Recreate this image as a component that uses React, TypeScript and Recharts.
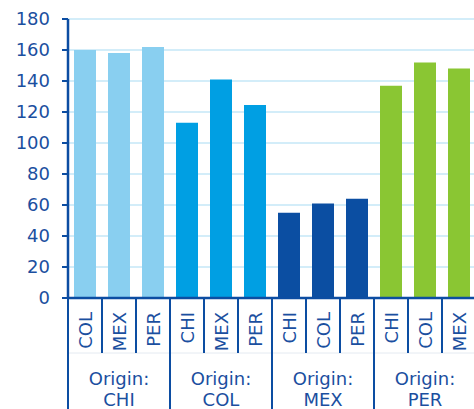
import { BarChart, Bar, XAxis, YAxis, CartesianGrid, Cell } from "recharts";

const destinations = ["COL", "MEX", "PER", "CHI", "MEX", "PER", "CHI", "COL", "PER", "CHI", "COL", "MEX"];
const origins = ["CHI", "CHI", "CHI", "COL", "COL", "COL", "MEX", "MEX", "MEX", "PER", "PER", "PER"];
const values = [160, 158, 162, 113, 141, 124.5, 55, 61, 64, 137, 152, 148];
const yTicks = [0, 20, 40, 60, 80, 100, 120, 140, 160, 180];

const originColors: Record<string, string> = {
  CHI: "#89CFF0",
  COL: "#009FE3",
  MEX: "#0B4EA2",
  PER: "#8AC633",
};

const AXIS = "#0C4DA2";
const TEXT = "#1B4F9F";
const GRID = "#D3EDF9";
const FONT = "'DejaVu Sans', sans-serif";

const W = 476;
const H = 409;
const Y_W = 68;
const BAND = (W - Y_W) / destinations.length;

const data = destinations.map((d, i) => ({
  dest: d,
  origin: origins[i],
  value: values[i],
}));

function CatTick(props: any) {
  const { x, y, payload } = props;
  const half = BAND / 2;
  return (
    <g>
      <line x1={x - half} x2={x - half} y1={y} y2={y + 55} stroke={AXIS} strokeWidth={2} />
      <text
        transform={`translate(${x},${y + 14}) rotate(-90)`}
        textAnchor="end"
        dominantBaseline="central"
        fill={TEXT}
        fontSize={18}
        fontFamily={FONT}
      >
        {payload.value}
      </text>
    </g>
  );
}

function GroupTick(props: any) {
  const { x, y, index } = props;
  const half = BAND / 2;
  return (
    <g>
      {index % 3 === 0 && (
        <line x1={x - half} x2={x - half} y1={y - 1} y2={y + 60} stroke={AXIS} strokeWidth={2} />
      )}
      {index % 3 === 1 && (
        <text x={x} y={y + 32} textAnchor="middle" fill={TEXT} fontSize={18} fontFamily={FONT}>
          <tspan x={x}>Origin:</tspan>
          <tspan x={x} dy={21}>
            {origins[index]}
          </tspan>
        </text>
      )}
    </g>
  );
}

export default function App() {
  return (
    <div
      style={{
        position: "absolute",
        left: 0,
        top: 0,
        width: 474,
        height: 409,
        overflow: "hidden",
        background: "#fff",
      }}
    >
      <BarChart width={W} height={H} data={data} margin={{ top: 19, right: 0, bottom: 0, left: 0 }}>
        <CartesianGrid vertical={false} stroke={GRID} strokeWidth={2} />
        <YAxis
          width={Y_W}
          domain={[0, 180]}
          ticks={yTicks}
          interval={0}
          axisLine={{ stroke: AXIS, strokeWidth: 2.5 }}
          tickLine={{ stroke: AXIS, strokeWidth: 2 }}
          tickSize={6}
          tickMargin={12}
          tick={{ fill: TEXT, fontSize: 18, fontFamily: FONT }}
        />
        <XAxis
          xAxisId="cat"
          dataKey="dest"
          height={55}
          interval={0}
          tickSize={0}
          tickMargin={0}
          tickLine={false}
          axisLine={{ stroke: AXIS, strokeWidth: 2.5 }}
          tick={<CatTick />}
        />
        <XAxis
          xAxisId="group"
          dataKey="origin"
          height={56}
          interval={0}
          tickSize={0}
          tickMargin={0}
          tickLine={false}
          axisLine={{ stroke: "#E4EAF1", strokeWidth: 1 }}
          tick={<GroupTick />}
        />
        <Bar dataKey="value" xAxisId="cat" barSize={22} isAnimationActive={false}>
          {data.map((d, i) => (
            <Cell key={i} fill={originColors[d.origin]} />
          ))}
        </Bar>
      </BarChart>
    </div>
  );
}
